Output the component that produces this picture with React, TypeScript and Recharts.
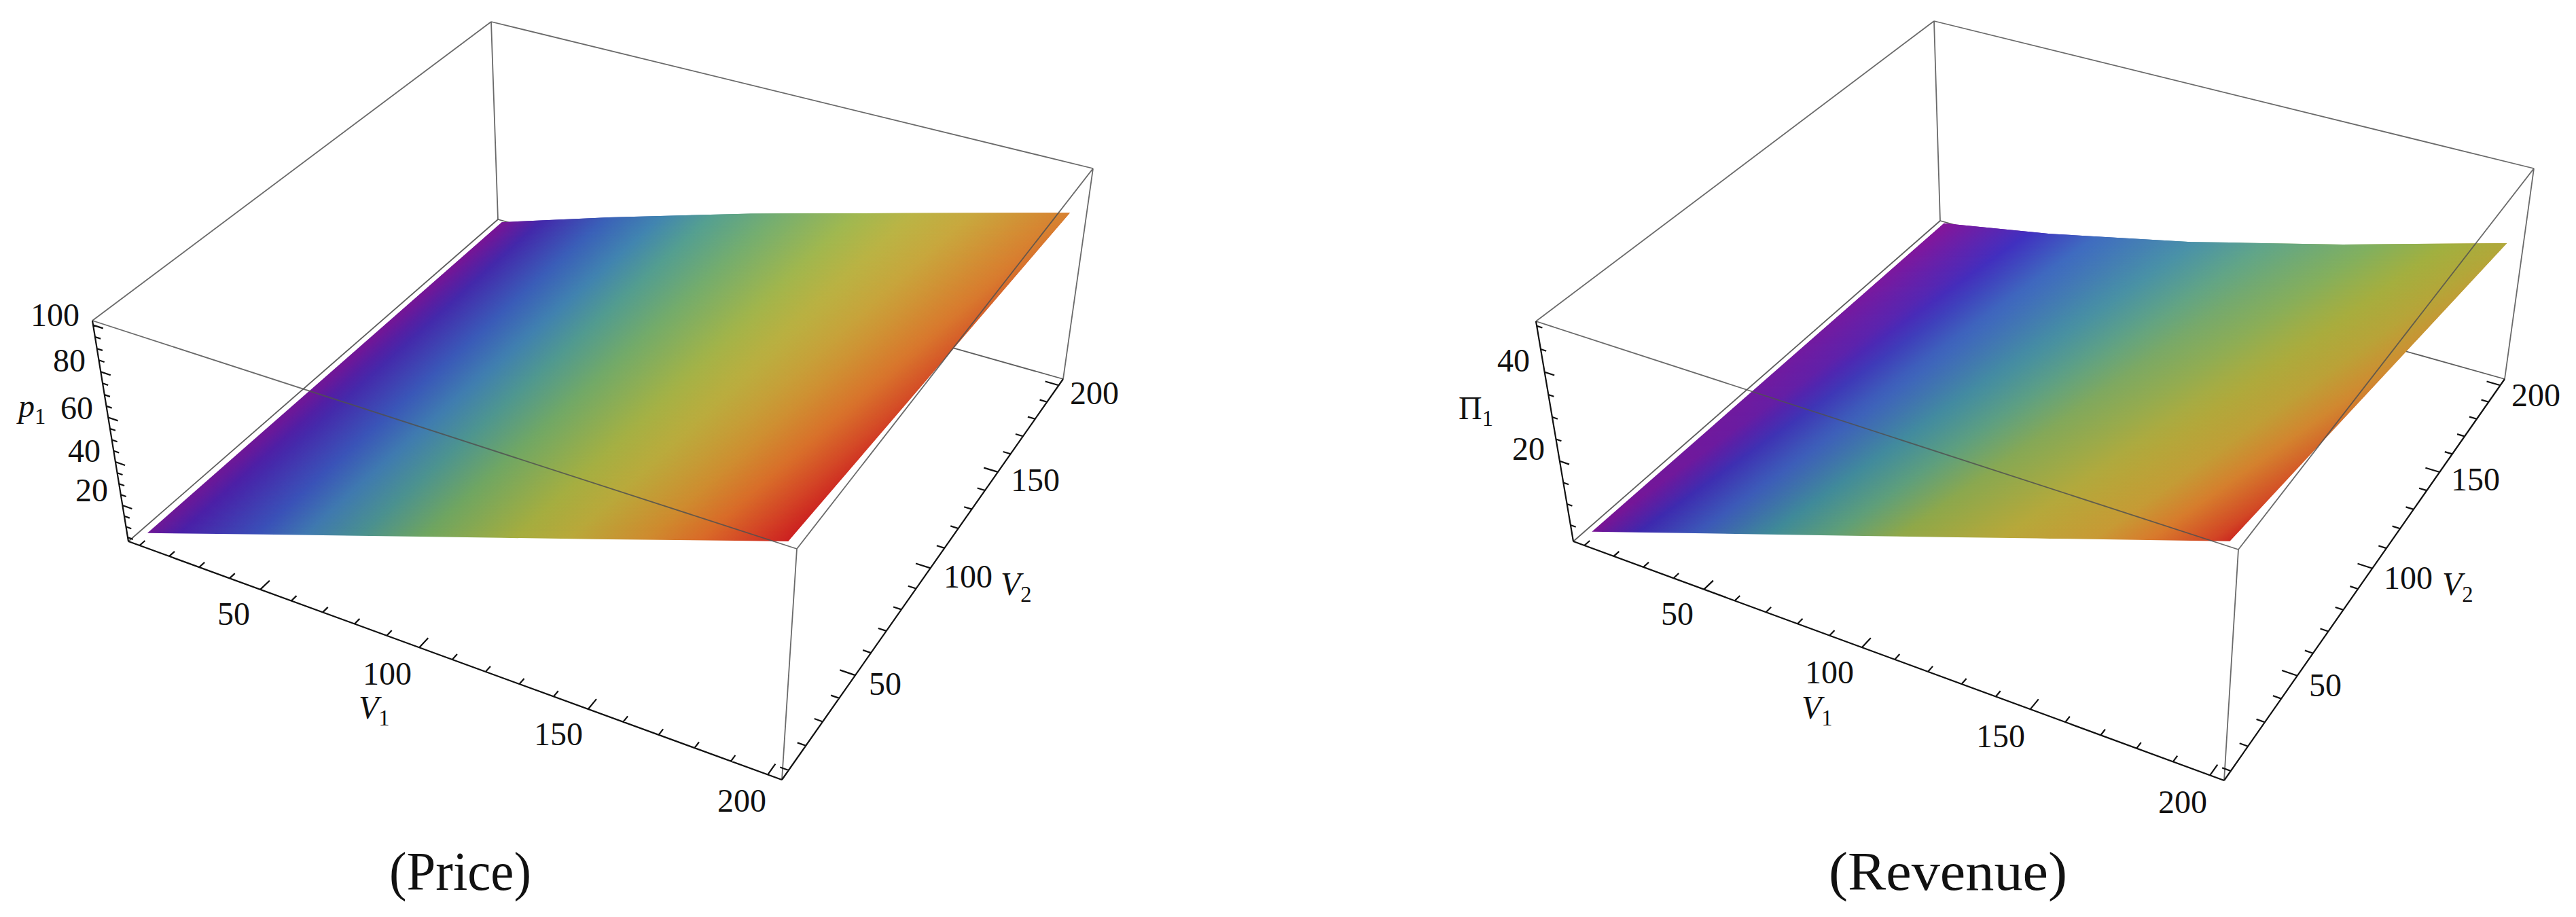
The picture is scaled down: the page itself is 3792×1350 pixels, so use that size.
import { ComposedChart, XAxis, YAxis, Area, Line, Scatter } from 'recharts';

const W = 1896;
const H = 1350;
const SERIF = '"Liberation Serif", serif';

const V1_TICKS = [10, 20, 30, 40, 50, 60, 70, 80, 90, 100, 110, 120, 130, 140, 150, 160, 170, 180, 190, 200];
const V2_TICKS = [10, 20, 30, 40, 50, 60, 70, 80, 90, 100, 110, 120, 130, 140, 150, 160, 170, 180, 190, 200];
const MAJOR_V = [50, 100, 150, 200];
const PRICE_TICKS = [5, 10, 15, 20, 25, 30, 35, 40, 45, 50, 55, 60, 65, 70, 75, 80, 85, 90, 95, 100];
const PRICE_MAJOR = [20, 40, 60, 80, 100];
const REVENUE_TICKS = [5, 10, 15, 20, 25, 30, 35, 40, 45, 50];
const REVENUE_MAJOR = [20, 40];

// surface read along its two long edges
const SURFACE_V1 = [10, 50, 100, 150, 200];
const PRICE_AT_V2_10 = [5.4, 25, 49.4, 74, 99.2];
const PRICE_AT_V2_200 = [5.8, 23.8, 44.8, 64.1, 83.3];
const REVENUE_AT_V2_10 = [2.6, 12.4, 24.7, 37.2, 49.8];
const REVENUE_AT_V2_200 = [2.5, 7.5, 15.2, 24.4, 34.6];

type Pt = [number, number];
type Stop = [number, string];

const PRICE_FRONT_COLOURS: Stop[] = [
  [0, '#6f1896'], [0.05, '#4a20a8'], [0.17, '#3a50b8'], [0.244, '#3f78b0'], [0.33, '#4a9090'], [0.43, '#6fa560'],
  [0.573, '#a5ad3f'], [0.658, '#b9a83a'], [0.78, '#cf8a2e'], [0.862, '#d96a28'], [0.943, '#d33f25'], [1, '#cc2020'],
];
// positions past 1 carry the ramp on to the red corner, for the fade across the surface
const PRICE_BACK_COLOURS: Stop[] = [
  [0, '#7a1494'], [0.068, '#4328aa'], [0.179, '#3a60b8'], [0.275, '#4185b0'], [0.365, '#55a090'], [0.48, '#75ae70'],
  [0.62, '#a0b850'], [0.72, '#bab445'], [0.826, '#c8a83e'], [0.93, '#d29035'], [1, '#d88030'], [1.07, '#d6602a'], [1.15, '#cc2a20'],
];
const REVENUE_FRONT_COLOURS: Stop[] = [
  [0, '#7a1494'], [0.072, '#3e28ae'], [0.163, '#3c58b8'], [0.277, '#3f8a98'], [0.376, '#5f9f78'], [0.482, '#90a848'],
  [0.644, '#b8a83a'], [0.787, '#c89a35'], [0.873, '#d87a2c'], [0.969, '#d24525'], [1, '#cc2a20'],
];
const REVENUE_BACK_COLOURS: Stop[] = [
  [0, '#861599'], [0.167, '#4030c0'], [0.289, '#3f6cc0'], [0.472, '#4a92a8'], [0.594, '#60a58a'], [0.777, '#80b060'],
  [0.9, '#a0b040'], [1, '#b0a83a'], [1.1, '#c89a35'], [1.2, '#d87a2c'], [1.25, '#d24525'],
];

interface TextMark { x: number; y: number; text: string; sub?: string; italic?: boolean; anchor?: string; size?: number; textLength?: number; }

const PRICE_LABELS: TextMark[] = [
  { x: 117, y: 480, text: '100', anchor: 'end' }, { x: 126, y: 547, text: '80', anchor: 'end' },
  { x: 137, y: 617, text: '60', anchor: 'end' }, { x: 148, y: 680, text: '40', anchor: 'end' },
  { x: 159, y: 738, text: '20', anchor: 'end' }, { x: 27, y: 614, text: 'p', sub: '1', italic: true, anchor: 'start' },
  { x: 344, y: 920, text: '50' }, { x: 570, y: 1008, text: '100' }, { x: 528, y: 1058, text: 'V', sub: '1', italic: true, anchor: 'start' },
  { x: 822, y: 1097, text: '150' }, { x: 1092, y: 1195, text: '200' },
  { x: 1303, y: 1023, text: '50' }, { x: 1425, y: 865, text: '100' }, { x: 1473, y: 876, text: 'V', sub: '2', italic: true, anchor: 'start' },
  { x: 1524, y: 723, text: '150' }, { x: 1611, y: 595, text: '200' },
  { x: 573, y: 1310, text: '(Price)', anchor: 'start', size: 80, textLength: 209 },
];
const REVENUE_LABELS: TextMark[] = [
  { x: 2252, y: 547, text: '40', anchor: 'end' }, { x: 2274, y: 677, text: '20', anchor: 'end' },
  { x: 2147, y: 617, text: 'Π', sub: '1', anchor: 'start' },
  { x: 2469, y: 920, text: '50' }, { x: 2693, y: 1006, text: '100' }, { x: 2652, y: 1058, text: 'V', sub: '1', italic: true, anchor: 'start' },
  { x: 2945, y: 1100, text: '150' }, { x: 3213, y: 1197, text: '200' },
  { x: 3423, y: 1025, text: '50' }, { x: 3545, y: 867, text: '100' }, { x: 3595, y: 876, text: 'V', sub: '2', italic: true, anchor: 'start' },
  { x: 3644, y: 722, text: '150' }, { x: 3733, y: 598, text: '200' },
  { x: 2692, y: 1310, text: '(Revenue)', anchor: 'start', size: 80, textLength: 351 },
];

// square -> quad homography, corners in order (0,0) (1,0) (1,1) (0,1)
function quadMap(q: Pt[]) {
  const [[x0, y0], [x1, y1], [x2, y2], [x3, y3]] = q;
  const dx1 = x1 - x2, dx2 = x3 - x2, sx = x0 - x1 + x2 - x3;
  const dy1 = y1 - y2, dy2 = y3 - y2, sy = y0 - y1 + y2 - y3;
  const den = dx1 * dy2 - dx2 * dy1;
  const g = (sx * dy2 - dx2 * sy) / den;
  const h = (dx1 * sy - sx * dy1) / den;
  const a = x1 - x0 + g * x1, b = x3 - x0 + h * x3;
  const d = y1 - y0 + g * y1, e = y3 - y0 + h * y3;
  return (u: number, v: number): Pt => {
    const w = g * u + h * v + 1;
    return [(a * u + b * v + x0) / w, (d * u + e * v + y0) / w];
  };
}

interface PanelProps {
  id: string;
  left: number;
  bottom: Pt[];
  top: Pt[];
  zRange: Pt;
  zTicks: number[];
  zMajor: number[];
  frontValues: number[];
  backValues: number[];
  frontColours: Stop[];
  backColours: Stop[];
  isoSlope: number;
  labels: TextMark[];
}

const V_RANGE: Pt = [6.2, 203.8];

function Panel({ id, left, bottom, top, zRange, zTicks, zMajor, frontValues, backValues, frontColours, backColours, isoSlope, labels }: PanelProps) {
  const lo = quadMap(bottom);
  const hi = quadMap(top);
  const project = (v1: number, v2: number, z: number): Pt => {
    const u = (v1 - V_RANGE[0]) / (V_RANGE[1] - V_RANGE[0]);
    const v = (v2 - V_RANGE[0]) / (V_RANGE[1] - V_RANGE[0]);
    const w0 = (z - zRange[0]) / (zRange[1] - zRange[0]);
    const w = w0 / (w0 + (1 - w0) * 1.06);
    const a = lo(u, v);
    const b = hi(u, v);
    return [a[0] + (b[0] - a[0]) * w, a[1] + (b[1] - a[1]) * w];
  };

  const [vMin, vMax] = V_RANGE;
  const [zMin, zMax] = zRange;
  const seg = (pairs: Pt[][]) => pairs.flatMap(([a, b]) => [{ x: a[0], y: a[1] }, { x: b[0], y: b[1] }, { x: b[0], y: null }]);
  const c = (v1: number, v2: number, z: number) => project(v1, v2, z);

  const G = c(vMin, vMin, zMin), Hh = c(vMax, vMin, zMin), I = c(vMax, vMax, zMin), J = c(vMin, vMax, zMin);
  const B = c(vMin, vMin, zMax), F = c(vMax, vMin, zMax), C = c(vMax, vMax, zMax), A = c(vMin, vMax, zMax);

  const behind = seg([[G, J], [J, I]]);
  const front = seg([[A, J], [A, B], [A, C], [B, F], [C, F], [C, I], [F, Hh]]);
  const axes = seg([
    [B, G], [G, Hh], [Hh, I],
    ...V1_TICKS.map((t): Pt[] => [c(t, vMin, zMin), c(t, vMin + (MAJOR_V.includes(t) ? 4.3 : 2.4), zMin)]),
    ...V2_TICKS.map((t): Pt[] => [c(vMax, t, zMin), c(vMax - (MAJOR_V.includes(t) ? 4.3 : 2.3), t, zMin)]),
    ...zTicks.map((t): Pt[] => [c(vMin, vMin, t), c(vMin + (zMajor.includes(t) ? 3.2 : 1.8), vMin, t)]),
  ]);

  // surface outline, turned into x -> [low, high] for the range area
  const frontRow = SURFACE_V1.map((v, i) => project(v, 10, frontValues[i]));
  const backRow = SURFACE_V1.map((v, i) => project(v, 200, backValues[i]));
  const outline = [...frontRow, ...[...backRow].reverse()];
  const xs = Array.from(new Set(outline.map((p) => p[0]))).sort((a, b) => a - b);
  const surface = xs.map((x) => {
    const hits: number[] = [];
    outline.forEach((p, i) => {
      const q = outline[(i + 1) % outline.length];
      const a = Math.min(p[0], q[0]), b = Math.max(p[0], q[0]);
      if (x >= a && x <= b && b > a) hits.push(p[1] + ((x - p[0]) / (q[0] - p[0])) * (q[1] - p[1]));
    });
    return { x, range: [Math.min(...hits), Math.max(...hits)] };
  });

  const iso = (p: Pt) => p[0] - left + isoSlope * p[1];
  const isos = outline.map(iso);
  const s0 = Math.min(...isos), s1 = Math.max(...isos);
  const norm = 1 + isoSlope * isoSlope;
  const vec = (s: number) => ({ x: s / norm, y: (s * isoSlope) / norm });
  const edgeStops = (a: Pt, b: Pt, stops: Stop[]) =>
    stops.map(([f, col]) => ({
      offset: (iso([a[0] + (b[0] - a[0]) * f, a[1] + (b[1] - a[1]) * f]) - s0) / (s1 - s0),
      col,
    }));
  const frontStops = edgeStops(frontRow[0], frontRow[frontRow.length - 1], frontColours);
  const backStops = edgeStops(backRow[0], backRow[backRow.length - 1], backColours);
  const v0 = vec(s0), v1 = vec(s1);
  const yFront = Math.min(frontRow[0][1], frontRow[frontRow.length - 1][1]);
  const yBack = Math.max(...backRow.map((p) => p[1]));

  const renderText = (p: any) => {
    const m: TextMark = p.payload;
    const size = m.size ?? 48;
    return (
      <text
        x={p.cx}
        y={p.cy}
        textAnchor={m.anchor ?? 'middle'}
        fontFamily={SERIF}
        fontSize={size}
        fill="#111"
        textLength={m.textLength}
        lengthAdjust={m.textLength ? 'spacingAndGlyphs' : undefined}
      >
        <tspan fontStyle={m.italic ? 'italic' : 'normal'}>{m.text}</tspan>
        {m.sub ? <tspan fontSize={size * 0.68} dy={10}>{m.sub}</tspan> : null}
      </text>
    );
  };

  return (
    <div style={{ position: 'absolute', left, top: 0, width: W, height: H }}>
      <ComposedChart width={W} height={H} margin={{ top: 0, right: 0, bottom: 0, left: 0 }}>
        <defs>
          <linearGradient id={`${id}-front`} gradientUnits="userSpaceOnUse" x1={v0.x} y1={v0.y} x2={v1.x} y2={v1.y}>
            {frontStops.map((s, i) => <stop key={i} offset={s.offset} stopColor={s.col} />)}
          </linearGradient>
          <linearGradient id={`${id}-back`} gradientUnits="userSpaceOnUse" x1={v0.x} y1={v0.y} x2={v1.x} y2={v1.y}>
            {backStops.map((s, i) => <stop key={i} offset={s.offset} stopColor={s.col} />)}
          </linearGradient>
          <linearGradient id={`${id}-fade`} gradientUnits="userSpaceOnUse" x1={0} y1={yFront} x2={0} y2={yBack}>
            <stop offset={0} stopColor="#fff" stopOpacity={0} />
            <stop offset={1} stopColor="#fff" stopOpacity={1} />
          </linearGradient>
          <mask id={`${id}-mask`} maskUnits="userSpaceOnUse" x={0} y={0} width={W} height={H}>
            <rect x={0} y={0} width={W} height={H} fill={`url(#${id}-fade)`} />
          </mask>
        </defs>
        <XAxis type="number" dataKey="x" domain={[left, left + W]} hide />
        <YAxis type="number" dataKey="y" domain={[0, H]} reversed hide width={0} />
        <Line data={behind} dataKey="y" stroke="#5e5e5e" strokeWidth={1.8} dot={false} activeDot={false} isAnimationActive={false} zIndex={50} />
        <Area data={surface} dataKey="range" type="linear" stroke="none" fill={`url(#${id}-front)`} fillOpacity={1} dot={false} activeDot={false} isAnimationActive={false} />
        <Area data={surface} dataKey="range" type="linear" stroke="none" fill={`url(#${id}-back)`} fillOpacity={1} mask={`url(#${id}-mask)`} dot={false} activeDot={false} isAnimationActive={false} />
        <Line data={front} dataKey="y" stroke="#505050" strokeOpacity={0.85} strokeWidth={1.8} dot={false} activeDot={false} isAnimationActive={false} />
        <Line data={axes} dataKey="y" stroke="#111" strokeWidth={2.2} dot={false} activeDot={false} isAnimationActive={false} />
        <Scatter data={labels} dataKey="y" shape={renderText} isAnimationActive={false} />
      </ComposedChart>
    </div>
  );
}

export default function App() {
  return (
    <div style={{ position: 'absolute', left: 0, top: 0, width: 3792, height: H, background: '#fff', overflow: 'hidden' }}>
      <Panel
        id="price"
        left={0}
        bottom={[[189, 797], [1151, 1148], [1565, 558], [733, 323]]}
        top={[[136, 472], [1173, 808], [1609, 248], [723, 32]]}
        zRange={[3.1, 101.9]}
        zTicks={PRICE_TICKS}
        zMajor={PRICE_MAJOR}
        frontValues={PRICE_AT_V2_10}
        backValues={PRICE_AT_V2_200}
        frontColours={PRICE_FRONT_COLOURS}
        backColours={PRICE_BACK_COLOURS}
        isoSlope={1.1}
        labels={PRICE_LABELS}
      />
      <Panel
        id="revenue"
        left={1896}
        bottom={[[2316, 797], [3274, 1149], [3687, 558], [2856, 325]]}
        top={[[2261, 473], [3295, 809], [3730, 248], [2847, 31]]}
        zRange={[1.1, 51]}
        zTicks={REVENUE_TICKS}
        zMajor={REVENUE_MAJOR}
        frontValues={REVENUE_AT_V2_10}
        backValues={REVENUE_AT_V2_200}
        frontColours={REVENUE_FRONT_COLOURS}
        backColours={REVENUE_BACK_COLOURS}
        isoSlope={1.4}
        labels={REVENUE_LABELS}
      />
    </div>
  );
}
